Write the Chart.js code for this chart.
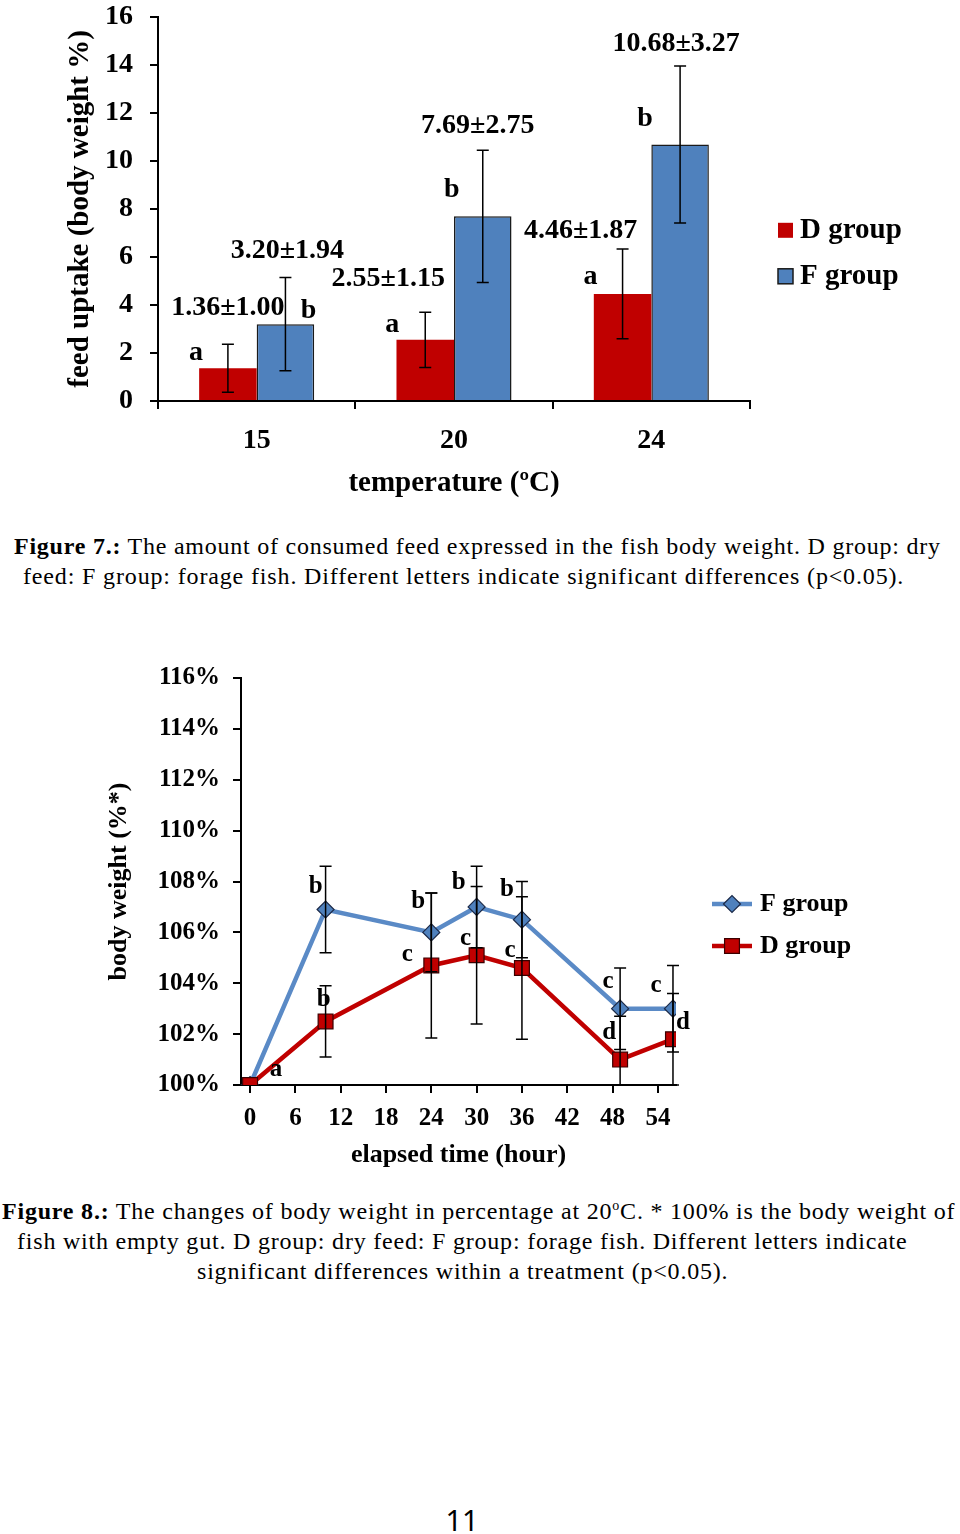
<!DOCTYPE html>
<html lang="en">
<head>
<meta charset="UTF-8">
<title>Feed uptake and body weight</title>
<script src="https://cdn.jsdelivr.net/npm/chart.js"></script>
<style>
  body {
    margin: 0;
    width: 960px;
    height: 1534px;
    position: relative;
    overflow: hidden;
    background: #fff;
    color: #000;
    font-family: 'Liberation Serif', 'Times New Roman', serif;
  }
  canvas { position: absolute; left: 0; }
  /* the y tick padding reserves room above the plot, so this canvas starts above the page */
  #feedChart { top: -17px; }
  #weightChart { top: 620px; }
  .cap {
    position: absolute;
    white-space: nowrap;
    font-size: 24px;
    line-height: 30px;
  }
  .cap sup { font-size: 14px; line-height: 0; }
  .page {
    position: absolute;
    top: 1500px;
    left: 0;
    width: 924px;
    text-align: center;
    font-family: 'Noto Sans', sans-serif;
    font-size: 29px;
    line-height: 40px;
  }
</style>
</head>
<body>
  <canvas id="feedChart" width="960" height="527"></canvas>
  <div class="cap" data-w="926" style="top:531px;left:14px"><b>Figure 7.:</b> The amount of consumed feed expressed in the fish body weight. D group: dry</div>
  <div class="cap" data-w="880" style="top:561px;left:23px">feed: F group: forage fish. Different letters indicate significant differences (p&lt;0.05).</div>

  <canvas id="weightChart" width="960" height="560"></canvas>
  <div class="cap" data-w="953" style="top:1196px;left:2px"><b>Figure 8.:</b> The changes of body weight in percentage at 20<sup>o</sup>C. * 100% is the body weight of</div>
  <div class="cap" data-w="890" style="top:1226px;left:17px">fish with empty gut. D group: dry feed: F group: forage fish. Different letters indicate</div>
  <div class="cap" data-w="531" style="top:1256px;left:197px">significant differences within a treatment (p&lt;0.05).</div>

  <div class="page">11</div>

  <script>
    // Figure 7: feed uptake (% body weight) per temperature
    const temps = ['15', '20', '24'];
    const dMean = [1.36, 2.55, 4.46];
    const dSd = [1.00, 1.15, 1.87];
    const fMean = [3.20, 7.69, 10.68];
    const fSd = [1.94, 2.75, 3.27];
    const dLetters1 = ['a', 'a', 'a'];
    const fLetters1 = ['b', 'b', 'b'];
    const feedTicks = [0, 2, 4, 6, 8, 10, 12, 14, 16];

    // Figure 8: body weight (%) over elapsed time at 20 °C
    const hours = [0, 10, 24, 30, 36, 49, 56];
    const hourTicks = [0, 6, 12, 18, 24, 30, 36, 42, 48, 54];
    const fWeight = [100, 106.9, 106.0, 107.0, 106.5, 103.0, 103.0];
    const fWeightErr = [0, 1.7, 1.55, 1.6, 1.5, 1.6, 1.7];
    const dWeight = [100, 102.5, 104.7, 105.1, 104.6, 101.0, 101.8];
    const dWeightErr = [0, 1.4, 2.85, 2.7, 2.8, 1.7, 1.8];
    const fLetters2 = ['', 'b', 'b', 'b', 'b', 'c', 'c'];
    const dLetters2 = ['a', 'b', 'c', 'c', 'c', 'd', 'd'];
    const weightTicks = [100, 102, 104, 106, 108, 110, 112, 114, 116];

    const RED = '#c00000';
    const BLUE = '#4f81bd';
    const BLUE_LINE = '#5a8ac6';
    const SERIF = "'Liberation Serif', 'Times New Roman', serif";

    // stretch caption lines to the width they have in the original page
    document.querySelectorAll('.cap').forEach(el => {
      const target = +el.dataset.w;
      const n = el.textContent.length - 1;
      el.style.letterSpacing = ((target - el.offsetWidth) / n) + 'px';
    });

    // where the letters / value labels sit, relative to bar centre and error-bar top (px)
    const letterPos1 = { D: [[-32, 8], [-33, 13], [-32, 28]], F: [[23, 33], [-31, 39], [-35, 53]] };
    const valuePos1 = { D: [[0, -37], [-37, -33], [-42, -18]], F: [[2, -27], [-5, -25], [-4, -22]] };
    // letters of fig. 8 relative to the marker (px)
    const letterPos2 = {
      F: [null, [-10, -23], [-13, -31], [-18, -24], [-15, -30], [-12, -27], [-17, -23]],
      D: [[26, -15], [-2, -22], [-24, -11], [-11, -17], [-12, -17], [-11, -27], [10, -17]]
    };

    const errorBars = {
      id: 'errorBars',
      afterDatasetsDraw(chart, args, opts) {
        const ctx = chart.ctx;
        const y = chart.scales.y;
        ctx.save();
        ctx.strokeStyle = '#000';
        ctx.lineWidth = opts.lineWidth;
        opts.sets.forEach(set => {
          const meta = chart.getDatasetMeta(set.dataset);
          meta.data.forEach((el, i) => {
            const v = set.values[i], e = set.err[i];
            if (!e) return;
            const lo = Math.max(v - e, y.min);
            const yHi = y.getPixelForValue(v + e);
            const yLo = y.getPixelForValue(lo);
            ctx.beginPath();
            ctx.moveTo(el.x, yHi);
            ctx.lineTo(el.x, yLo);
            ctx.moveTo(el.x - opts.cap, yHi);
            ctx.lineTo(el.x + opts.cap, yHi);
            if (v - e >= y.min) {
              ctx.moveTo(el.x - opts.cap, yLo);
              ctx.lineTo(el.x + opts.cap, yLo);
            }
            ctx.stroke();
          });
        });
        ctx.restore();
      }
    };

    function text(ctx, str, x, y, size, align) {
      ctx.font = 'bold ' + size + 'px ' + SERIF;
      ctx.fillStyle = '#000';
      ctx.textAlign = align || 'center';
      ctx.textBaseline = 'middle';
      ctx.fillText(str, x, y);
    }

    const feedLabels = {
      id: 'feedLabels',
      afterDraw(chart) {
        const ctx = chart.ctx;
        const y = chart.scales.y;
        const groups = [
          { key: 'D', ds: 0, mean: dMean, sd: dSd, letters: dLetters1 },
          { key: 'F', ds: 1, mean: fMean, sd: fSd, letters: fLetters1 }
        ];
        ctx.save();
        groups.forEach(g => {
          chart.getDatasetMeta(g.ds).data.forEach((bar, i) => {
            const top = y.getPixelForValue(g.mean[i] + g.sd[i]);
            const lp = letterPos1[g.key][i], vp = valuePos1[g.key][i];
            text(ctx, g.letters[i], bar.x + lp[0], top + lp[1], 28);
            text(ctx, g.mean[i].toFixed(2) + '±' + g.sd[i].toFixed(2), bar.x + vp[0], top + vp[1], 28);
          });
        });
        // legend
        const a = chart.chartArea;
        chart.data.datasets.forEach((ds, i) => {
          const cy = a.top + 214 + i * 46;
          ctx.fillStyle = ds.backgroundColor;
          ctx.fillRect(a.right + 28, cy - 8, 15, 15);
          if (ds.borderWidth) {
            ctx.strokeStyle = ds.borderColor;
            ctx.lineWidth = 1.5;
            ctx.strokeRect(a.right + 28, cy - 8, 15, 15);
          }
          text(ctx, ds.label, a.right + 50, cy, 29, 'left');
        });
        ctx.restore();
      }
    };

    const weightLabels = {
      id: 'weightLabels',
      afterDraw(chart) {
        const ctx = chart.ctx;
        ctx.save();
        const groups = [
          { key: 'D', ds: 0, letters: dLetters2 },
          { key: 'F', ds: 1, letters: fLetters2 }
        ];
        groups.forEach(g => {
          chart.getDatasetMeta(g.ds).data.forEach((pt, i) => {
            const p = letterPos2[g.key][i];
            if (!p || !g.letters[i]) return;
            text(ctx, g.letters[i], pt.x + p[0], pt.y + p[1], 25);
          });
        });
        // legend: F first, then D
        const a = chart.chartArea;
        [1, 0].forEach((di, k) => {
          const ds = chart.data.datasets[di];
          const cy = a.top + 226 + k * 42;
          const x0 = a.right + 36, x1 = a.right + 76;
          ctx.strokeStyle = ds.borderColor;
          ctx.lineWidth = ds.borderWidth;
          ctx.beginPath();
          ctx.moveTo(x0, cy);
          ctx.lineTo(x1, cy);
          ctx.stroke();
          ctx.fillStyle = ds.pointBackgroundColor;
          ctx.strokeStyle = ds.pointBorderColor;
          ctx.lineWidth = ds.pointBorderWidth;
          Chart.helpers.drawPoint(ctx, {
            pointStyle: ds.pointStyle, radius: ds.pointRadius, borderWidth: ds.pointBorderWidth, rotation: 0
          }, (x0 + x1) / 2, cy);
          text(ctx, ds.label, a.right + 84, cy, 26, 'left');
        });
        ctx.restore();
      }
    };

    const font28 = { family: SERIF, weight: 'bold', size: 28 };
    const font29 = { family: SERIF, weight: 'bold', size: 29 };

    new Chart(document.getElementById('feedChart'), {
      type: 'bar',
      data: {
        labels: temps,
        datasets: [
          {
            label: 'D group',
            data: dMean,
            backgroundColor: RED,
            borderWidth: 0,
            barPercentage: 1,
            categoryPercentage: 0.583
          },
          {
            label: 'F group',
            data: fMean,
            backgroundColor: BLUE,
            borderColor: '#1a1a1a',
            borderWidth: 1.5,
            barPercentage: 1,
            categoryPercentage: 0.583
          }
        ]
      },
      options: {
        responsive: false,
        animation: false,
        events: [],
        layout: { padding: { top: 0, right: 210, left: 0, bottom: 0 } },
        plugins: {
          legend: { display: false },
          tooltip: { enabled: false },
          errorBars: {
            lineWidth: 1.5,
            cap: 6,
            sets: [
              { dataset: 0, values: dMean, err: dSd },
              { dataset: 1, values: fMean, err: fSd }
            ]
          }
        },
        scales: {
          x: {
            offset: true,
            grid: { offset: true, drawOnChartArea: false, tickLength: 8, color: '#000', lineWidth: 2 },
            border: { color: '#000', width: 2 },
            ticks: { color: '#000', font: font28, padding: 15 },
            title: { display: true, text: 'temperature (ºC)', color: '#000', font: font29, padding: { top: 0, bottom: 9 } },
            afterFit: s => { s.height = 109; }
          },
          y: {
            min: 0,
            max: 16,
            afterBuildTicks: s => { s.ticks = feedTicks.map(v => ({ value: v })); },
            grid: { drawOnChartArea: false, tickLength: 8, color: '#000', lineWidth: 2 },
            border: { color: '#000', width: 2 },
            ticks: { color: '#000', font: font28, padding: 17 },
            title: { display: true, text: 'feed uptake (body weight %)', color: '#000', font: font29, padding: { top: 63, bottom: 0 } },
            afterFit: s => { s.width = 158; }
          }
        }
      },
      plugins: [errorBars, feedLabels]
    });

    const font25 = { family: SERIF, weight: 'bold', size: 25 };
    const font26 = { family: SERIF, weight: 'bold', size: 26 };

    new Chart(document.getElementById('weightChart'), {
      type: 'line',
      data: {
        datasets: [
          {
            label: 'D group',
            data: hours.map((h, i) => ({ x: h, y: dWeight[i] })),
            borderColor: RED,
            borderWidth: 4.5,
            pointStyle: 'rect',
            pointRadius: 10.5,
            pointBackgroundColor: RED,
            pointBorderColor: '#3a0000',
            pointBorderWidth: 1.2,
            tension: 0
          },
          {
            label: 'F group',
            data: hours.map((h, i) => ({ x: h, y: fWeight[i] })),
            borderColor: BLUE_LINE,
            borderWidth: 4.5,
            pointStyle: 'rectRot',
            pointRadius: 8.5,
            pointBackgroundColor: BLUE,
            pointBorderColor: '#1c2a48',
            pointBorderWidth: 1.2,
            tension: 0
          }
        ]
      },
      options: {
        responsive: false,
        animation: false,
        events: [],
        layout: { padding: { top: 58, right: 284, left: 0, bottom: 0 } },
        plugins: {
          legend: { display: false },
          tooltip: { enabled: false },
          errorBars: {
            lineWidth: 1.5,
            cap: 6,
            sets: [
              { dataset: 0, values: dWeight, err: dWeightErr },
              { dataset: 1, values: fWeight, err: fWeightErr }
            ]
          }
        },
        scales: {
          x: {
            type: 'linear',
            min: -1.2,
            max: 56.4,
            afterBuildTicks: s => { s.ticks = hourTicks.map(v => ({ value: v })); },
            grid: { drawOnChartArea: false, tickLength: 8, color: '#000', lineWidth: 2 },
            border: { color: '#000', width: 2 },
            ticks: { color: '#000', font: font25, padding: 11, autoSkip: false, maxRotation: 0 },
            title: { display: true, text: 'elapsed time (hour)', color: '#000', font: font26, padding: { top: 0, bottom: 9 } },
            afterFit: s => { s.height = 95; }
          },
          y: {
            min: 100,
            max: 116,
            afterBuildTicks: s => { s.ticks = weightTicks.map(v => ({ value: v })); },
            grid: { drawOnChartArea: false, tickLength: 8, color: '#000', lineWidth: 2 },
            border: { color: '#000', width: 2 },
            ticks: { color: '#000', font: font25, padding: 13, callback: v => v + '%' },
            title: { display: true, text: 'body weight (%*)', color: '#000', font: font26, padding: { top: 104, bottom: 0 } },
            afterFit: s => { s.width = 241; }
          }
        }
      },
      plugins: [errorBars, weightLabels]
    });
  </script>
</body>
</html>
